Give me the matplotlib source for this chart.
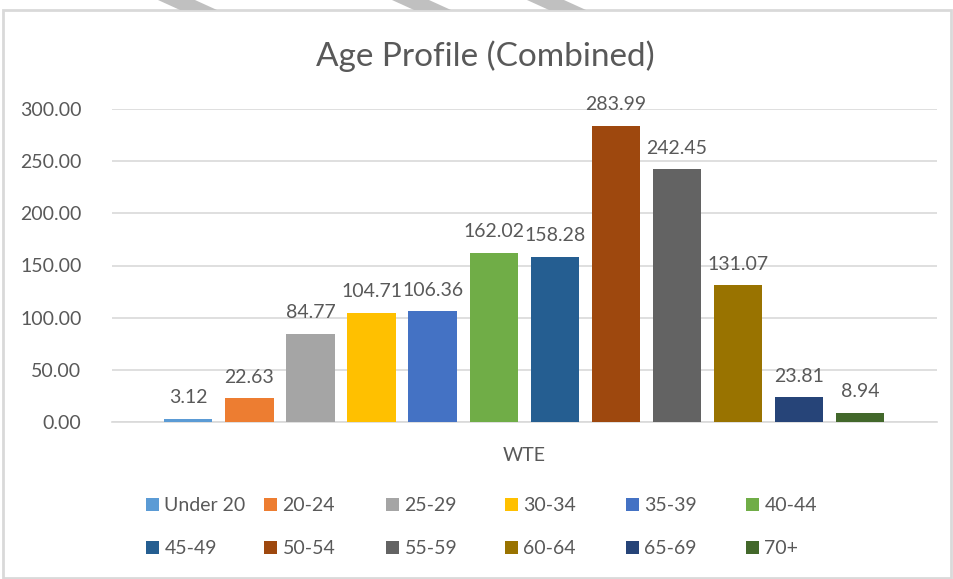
import matplotlib.pyplot as plt
from matplotlib.patches import Patch, Rectangle, Polygon

# data
age_groups = ["Under 20", "20-24", "25-29", "30-34", "35-39", "40-44",
              "45-49", "50-54", "55-59", "60-64", "65-69", "70+"]
wte = [3.12, 22.63, 84.77, 104.71, 106.36, 162.02,
       158.28, 283.99, 242.45, 131.07, 23.81, 8.94]
colors = ["#5B9BD5", "#ED7D31", "#A5A5A5", "#FFC000", "#4472C4", "#70AD47",
          "#255E91", "#9E480E", "#636363", "#997300", "#264478", "#43682B"]
category = "WTE"

txt = "#595959"
grid = "#D9D9D9"
plt.rcParams['font.family'] = ['Lato', 'DejaVu Sans']

fig = plt.figure(figsize=(9.54, 5.79), dpi=100)
W, H = 954, 579

# chart frame and the grey stripes peeking above it
fig.patches.append(Rectangle((3 / W, 0.002), 948 / W, 1 - 10 / H - 0.002,
                             transform=fig.transFigure, fill=False,
                             edgecolor=grid, linewidth=2))
for x0 in [158, 392, 527]:
    pts = [(x0 / W, 1), ((x0 + 37) / W, 1), ((x0 + 59) / W, 1 - 10 / H), ((x0 + 22) / W, 1 - 10 / H)]
    fig.patches.append(Polygon(pts, closed=True, transform=fig.transFigure,
                               facecolor="#C0C0C0", edgecolor="none"))

ax = fig.add_axes([112 / W, 1 - 422 / H, 825 / W, 313 / H])
x = list(range(len(wte)))
bars = ax.bar(x, wte, width=0.79, color=colors, zorder=3)
for xi, v in zip(x, wte):
    ax.annotate(f"{v:.2f}", (xi, v), xytext=(0, 9), textcoords="offset points",
                ha="center", va="bottom", fontsize=14, color=txt,
                annotation_clip=False)

ax.set_xlim(-1.25, len(wte) - 1 + 1.26)
ax.set_ylim(0, 300)
ax.set_yticks(range(0, 301, 50))
ax.set_yticklabels([f"{t:.2f}" for t in range(0, 301, 50)])
ax.set_xticks([(len(wte) - 1) / 2])
ax.set_xticklabels([category])
ax.tick_params(length=0, labelsize=14, labelcolor=txt)
ax.tick_params(axis="y", pad=22)
ax.tick_params(axis="x", pad=18)
ax.grid(axis="y", color=grid, linewidth=1.2, zorder=0)
for s in ["top", "right", "left"]:
    ax.spines[s].set_visible(False)
ax.spines["bottom"].set_color(grid)
ax.spines["bottom"].set_linewidth(1.2)

fig.text(485 / W, 1 - 56 / H, "Age Profile (Combined)", ha="center", va="center",
         fontsize=24, color=txt)

# legend: six equal columns, two rows
col_x = [146, 264, 386, 505, 626, 746]
for c in range(6):
    idx = [c, c + 6]
    handles = [Patch(facecolor=colors[i], edgecolor="none") for i in idx]
    fig.legend(handles, [age_groups[i] for i in idx], loc="upper left",
               bbox_to_anchor=(col_x[c] / W, 1 - 497 / H), frameon=False,
               fontsize=14, labelcolor=txt, handlelength=0.65, handleheight=0.65,
               handletextpad=0.3, labelspacing=1.35, borderpad=0, borderaxespad=0)

fig.savefig("out.png", dpi=100)
